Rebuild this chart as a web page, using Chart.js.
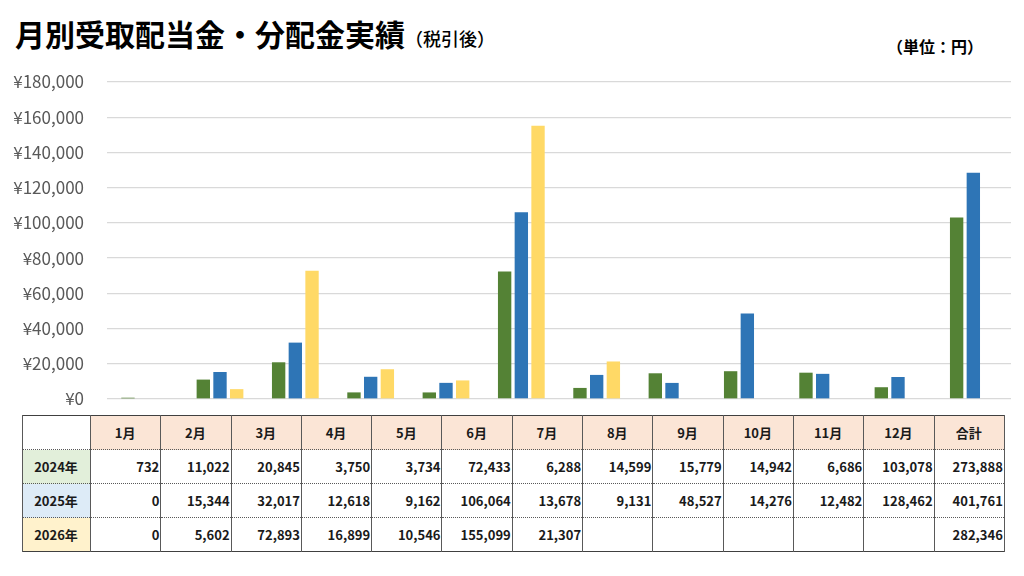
<!DOCTYPE html>
<html lang="ja">
<head>
<meta charset="utf-8">
<script src="https://cdn.jsdelivr.net/npm/chart.js@4.4.1/dist/chart.umd.min.js"></script>
<style>
  html, body { margin: 0; padding: 0; background: #fff; }
  body { width: 1024px; height: 576px; position: relative; overflow: hidden;
         font-family: "Noto Sans CJK JP", "Noto Sans", sans-serif; }
  #title { position: absolute; left: 15px; top: 13px; font-size: 30px; font-weight: 700;
           color: #000; line-height: 40px; white-space: nowrap; }
  #title small { font-size: 18px; font-weight: 500; }
  #unit { position: absolute; left: 887px; top: 35px; font-size: 16px; font-weight: 700;
          color: #000; line-height: 22px; }
  #divChart { position: absolute; left: 0; top: 70px; }
  #dataTable { position: absolute; left: 22px; top: 415px; border-collapse: collapse;
               border: 1.5px solid #404040; table-layout: fixed; }
  #dataTable td { height: 33px; padding: 0 1px 0 0; font-size: 13px; font-weight: 700;
                  color: #1a1a1a; text-align: right; border-left: 1.5px solid #595959;
                  border-right: 1.5px solid #595959; border-top: 1px dotted #595959;
                  border-bottom: 1px dotted #595959; white-space: nowrap; }
  #dataTable tr.head td { background: #FBE5D6; text-align: center; }
  #dataTable td.rowhead { text-align: center; }
</style>
</head>
<body>
<div id="title">月別受取配当金・分配金実績<small>（税引後）</small></div>
<div id="unit">（単位：円）</div>
<canvas id="divChart" width="1024" height="340"></canvas>
<table id="dataTable"></table>
<script>
// --- data ---
const months = ['1月', '2月', '3月', '4月', '5月', '6月', '7月', '8月', '9月', '10月', '11月', '12月'];
const years = ['2024年', '2025年', '2026年'];
const y2024 = [732, 11022, 20845, 3750, 3734, 72433, 6288, 14599, 15779, 14942, 6686, 103078];
const y2025 = [0, 15344, 32017, 12618, 9162, 106064, 13678, 9131, 48527, 14276, 12482, 128462];
const y2026 = [0, 5602, 72893, 16899, 10546, 155099, 21307, null, null, null, null, null];
const totals = [273888, 401761, 282346];
const yTicks = [0, 20000, 40000, 60000, 80000, 100000, 120000, 140000, 160000, 180000];

const barColors = ['#548235', '#2E75B6', '#FFD966'];
const rowFills = ['#E2EFDA', '#DDEBF7', '#FFF2CC'];
const series = [y2024, y2025, y2026];

// --- table under the chart ---
function buildTable() {
    const table = document.getElementById('dataTable');
    const colW = [68].concat(Array(13).fill(70.3));
    const cg = document.createElement('colgroup');
    colW.forEach(w => {
        const c = document.createElement('col');
        c.style.width = w + 'px';
        cg.appendChild(c);
    });
    table.appendChild(cg);

    const head = document.createElement('tr');
    head.className = 'head';
    const blank = document.createElement('td');
    blank.style.background = '#fff';
    head.appendChild(blank);
    months.concat(['合計']).forEach(m => {
        const td = document.createElement('td');
        td.innerText = m;
        head.appendChild(td);
    });
    table.appendChild(head);

    series.forEach((vals, i) => {
        const tr = document.createElement('tr');
        const th = document.createElement('td');
        th.className = 'rowhead';
        th.innerText = years[i];
        th.style.background = rowFills[i];
        tr.appendChild(th);
        vals.concat([totals[i]]).forEach(v => {
            const td = document.createElement('td');
            td.innerText = v === null ? '' : v.toLocaleString('en-US');
            tr.appendChild(td);
        });
        table.appendChild(tr);
    });
}

function renderChart() {
    const ctx = document.getElementById('divChart').getContext('2d');
    new Chart(ctx, {
        type: 'bar',
        data: {
            labels: months,
            datasets: series.map((vals, i) => ({
                label: years[i],
                data: vals,
                backgroundColor: barColors[i],
                borderWidth: 0,
                categoryPercentage: 0.665,
                barPercentage: 0.8
            }))
        },
        options: {
            responsive: false,
            animation: false,
            layout: { padding: { top: 12, bottom: 11, right: 13, left: 0 } },
            plugins: {
                legend: { display: false },
                tooltip: { enabled: false }
            },
            scales: {
                x: { display: false },
                y: {
                    min: 0,
                    max: 180000,
                    afterFit: scale => {
                        // fixed axis width; ticks.padding would otherwise also pad top/bottom
                        scale.width = 107;
                        scale.paddingTop = 0;
                        scale.paddingBottom = 0;
                    },
                    afterBuildTicks: scale => { scale.ticks = yTicks.map(v => ({ value: v })); },
                    border: { display: false },
                    grid: { color: '#D9D9D9', lineWidth: 1.3, drawTicks: false },
                    ticks: {
                        padding: 23,
                        color: '#595959',
                        font: { family: 'Noto Sans CJK JP', size: 17 },
                        callback: v => '¥' + v.toLocaleString('en-US')
                    }
                }
            }
        }
    });
}

buildTable();
renderChart();
</script>
</body>
</html>
